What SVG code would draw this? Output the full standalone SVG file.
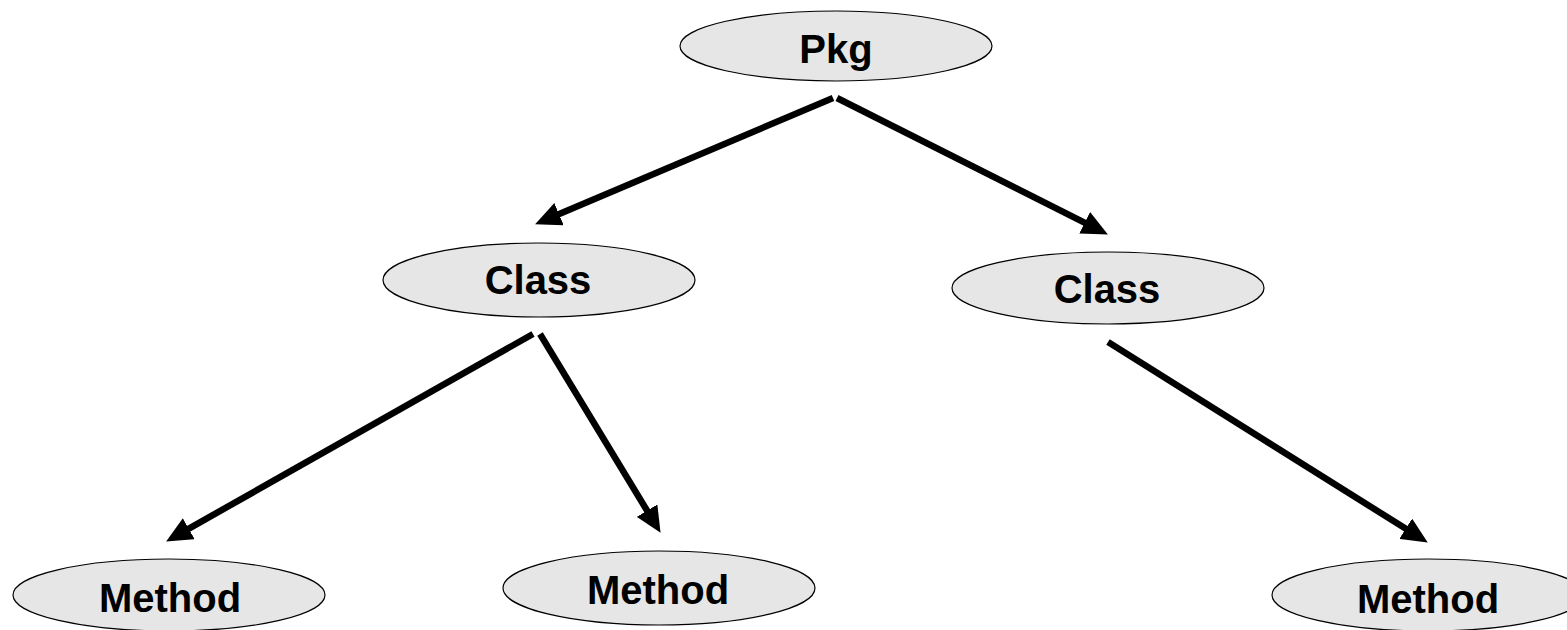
<svg xmlns="http://www.w3.org/2000/svg" width="1567" height="630" viewBox="0 0 1567 630">
<style>
.node ellipse{fill:#e6e6e6;stroke:#000;stroke-width:1.2}
.node text{font-family:"Liberation Sans",Arial,sans-serif;font-weight:bold;font-size:40px;fill:#000;text-anchor:middle}
.edge{stroke:#000;stroke-width:6.5;fill:none;marker-end:url(#ah)}
</style>
<defs>
<marker id="ah" viewBox="0 0 26 24" refX="12" refY="12" markerWidth="26" markerHeight="24" markerUnits="userSpaceOnUse" orient="auto">
<path d="M0,0 L26,12 L0,24 Z" fill="#000"/>
</marker>
</defs>
<rect width="1567" height="630" fill="#fff"/>
<g id="connectors">
<line class="edge" x1="833" y1="98" x2="548" y2="218.8"/>
<line class="edge" x1="837" y1="98" x2="1095.4" y2="228.2"/>
<line class="edge" x1="533" y1="334" x2="178.3" y2="534.6"/>
<line class="edge" x1="540" y1="334" x2="653.3" y2="520.9"/>
<line class="edge" x1="1108" y1="342" x2="1415.9" y2="535.1"/>
</g>
<g id="pkg" class="node"><ellipse cx="836" cy="46" rx="156" ry="35"/><text x="836" y="63">Pkg</text></g>
<g id="class-left" class="node"><ellipse cx="539" cy="280" rx="156" ry="37"/><text x="538" y="294">Class</text></g>
<g id="class-right" class="node"><ellipse cx="1108" cy="288" rx="156" ry="36"/><text x="1107" y="303">Class</text></g>
<g id="method-left" class="node"><ellipse cx="169" cy="595" rx="156" ry="36"/><text x="170" y="612">Method</text></g>
<g id="method-middle" class="node"><ellipse cx="659" cy="588" rx="156" ry="37"/><text x="658" y="604">Method</text></g>
<g id="method-right" class="node"><ellipse cx="1428" cy="595" rx="156" ry="36"/><text x="1428" y="613">Method</text></g>
</svg>
